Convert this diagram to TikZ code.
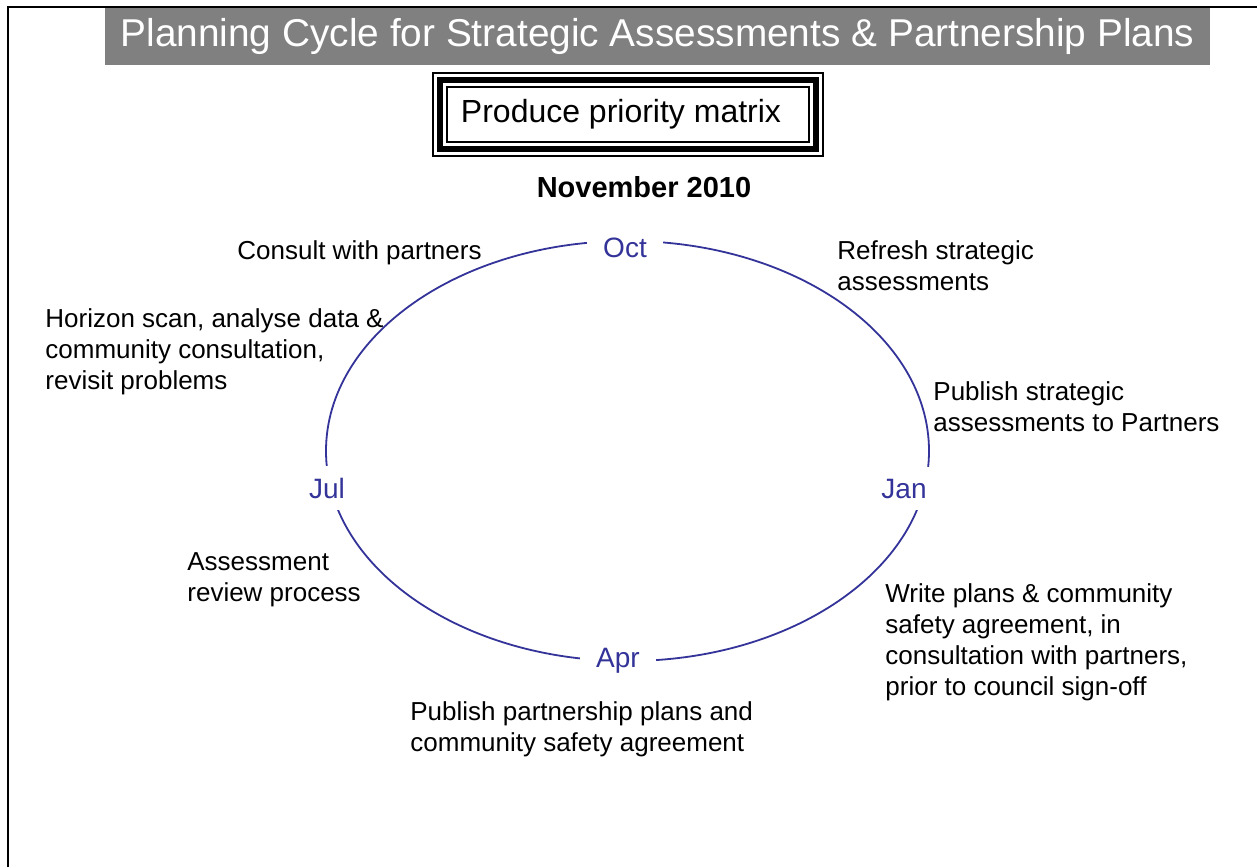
\documentclass[tikz,border=0pt]{standalone}
\usepackage{fontspec}
\setmainfont{Liberation Sans}
\usepackage{tikz}
\usetikzlibrary{positioning, calc}

\begin{document}
\begin{tikzpicture}[
    x=0.5pt, y=-0.5pt,
    banner/.style = {rectangle, fill=bannergrey, text=white, minimum width=552.5pt, minimum height=28.5pt, inner sep=0pt, font=\fontsize{19.4pt}{22pt}\selectfont},
    framebox/.style = {rectangle, draw=black, line width=3.2pt, outer sep=0pt, minimum width=188pt, minimum height=34.5pt, inner sep=0pt, font=\fontsize{16pt}{19pt}\selectfont},
    thinframe/.style = {draw=black, line width=0.8pt},
    month/.style = {anchor=base, fill=white, text=cycleblue, inner xsep=8pt, inner ysep=6pt, font=\fontsize{14pt}{16pt}\selectfont},
    note/.style = {anchor=north west, inner sep=0pt, align=left, font=\fontsize{13pt}{15.5pt}\selectfont},
    cycleline/.style = {draw=cycleblue, line width=0.9pt}
]
    % Colors definition
    \definecolor{bannergrey}{RGB}{128, 128, 128}
    \definecolor{cycleblue}{RGB}{51, 51, 153}

    \useasboundingbox (0,0) rectangle (1257,867);
    \draw[line width=1pt] (8,867) -- (8,7) -- (1257,7);

    % Title and header
    \node (title) [banner] at (657.5,36.5) {Planning Cycle for Strategic Assessments \& Partnership Plans};
    \node (priority) [framebox] at (628,114.5) {\hspace*{-7pt}Produce priority matrix};
    \draw [thinframe] ($(priority.north west)+(-7,-7)$) rectangle ($(priority.south east)+(7,7)$);
    \draw [thinframe] ($(priority.north west)+(7,7)$) rectangle ($(priority.south east)+(-7,-7)$);
    \node (date) [font=\bfseries\fontsize{14.5pt}{17pt}\selectfont] at (644,187) {November 2010};

    % Cycle
    \draw [cycleline] (627.5,451) ellipse [x radius=150.75pt, y radius=105pt];
    \node (oct) [month] at (625,257) {Oct};
    \node (jan) [month] at (904,498) {Jan};
    \node (apr) [month] at (618,667) {Apr};
    \node (jul) [month] at (327,498) {Jul};

    % Notes
    \node (consult) [note] at (237,240) {Consult with partners};
    \node (refresh) [note] at (837,240) {Refresh strategic\\assessments};
    \node (horizon) [note] at (45,308) {Horizon scan, analyse data \&\\community consultation,\\revisit problems};
    \node (publishsa) [note] at (933,381) {Publish strategic\\assessments to Partners};
    \node (write) [note] at (885,583) {Write plans \& community\\safety agreement, in\\consultation with partners,\\prior to council sign-off};
    \node (publishpp) [note] at (410,701) {Publish partnership plans and\\community safety agreement};
    \node (review) [note] at (187,552) {Assessment\\review process};

\end{tikzpicture}
\end{document}
